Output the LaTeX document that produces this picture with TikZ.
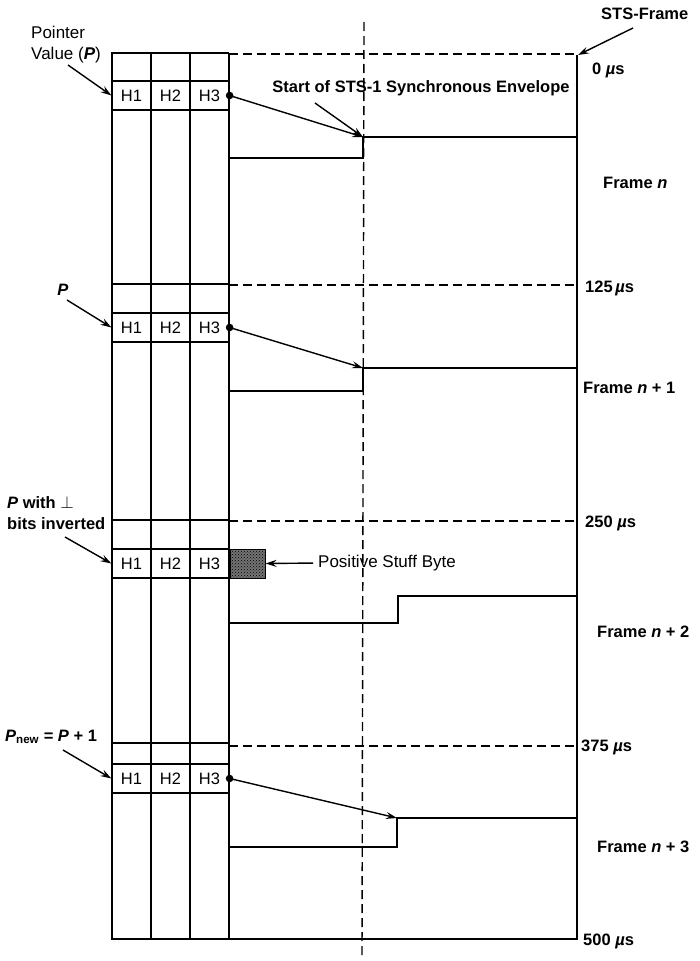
\documentclass[tikz,border=0pt]{standalone}
\usepackage{fontspec}
\setmainfont{Liberation Sans}
\usetikzlibrary{arrows.meta, positioning, patterns}
\newcommand{\bip}[1]{\textbf{\textit{#1}}}
\tikzset{
  hcell/.style={draw, line width=1.2pt, minimum width=39pt, minimum height=29pt,
                inner sep=0pt, font=\fontsize{16.5}{18}\selectfont},
  lbl/.style={font=\fontsize{16.5}{21}\selectfont\bfseries, inner sep=0pt},
  tlbl/.style={font=\fontsize{17}{21}\selectfont, inner sep=0pt},
  arr/.style={-{Stealth[length=11pt, width=7pt, inset=4pt]}, line width=1.4pt},
  frm/.style={line width=1.4pt},
  tickline/.style={line width=1.4pt, dash pattern=on 9pt off 5pt},
  stuffbox/.style={draw, line width=1pt, preaction={fill=black!55}, pattern color=black,
                   pattern=crosshatch dots, minimum width=35pt, minimum height=29pt,
                   inner sep=0pt},
}

\begin{document}
\begin{tikzpicture}[x=1pt, y=-1pt]
  \useasboundingbox (0,0) rectangle (700,961);

  % columns and STS frame outline
  \draw[frm] (229,53) -- (112,53) -- (112,939) -- (577,939) -- (577,55);
  \draw[frm] (151,53) -- (151,939);
  \draw[frm] (190,53) -- (190,939);
  \draw[frm] (229,53) -- (229,939);
  \draw[frm] (112,284) -- (229,284);
  \draw[frm] (112,520) -- (229,520);
  \draw[frm] (112,743) -- (229,743);

  % frame boundaries
  \draw[tickline] (229,54) -- (577,54);
  \draw[tickline] (229,285) -- (577,285);
  \draw[tickline] (229,521) -- (577,521);
  \draw[tickline] (229,746) -- (577,746);
  \draw[tickline] (364,22) -- (362,958);

  % pointer bytes
  \node[hcell] (h1a) at (131.5,95.5) {H1};
  \node[hcell] (h2a) at (170.5,95.5) {H2};
  \node[hcell] (h3a) at (209.5,95.5) {H3};
  \node[hcell] (h1b) at (131.5,327.5) {H1};
  \node[hcell] (h2b) at (170.5,327.5) {H2};
  \node[hcell] (h3b) at (209.5,327.5) {H3};
  \node[hcell] (h1c) at (131.5,563.5) {H1};
  \node[hcell] (h2c) at (170.5,563.5) {H2};
  \node[hcell] (h3c) at (209.5,563.5) {H3};
  \node[hcell] (h1d) at (131.5,778.5) {H1};
  \node[hcell] (h2d) at (170.5,778.5) {H2};
  \node[hcell] (h3d) at (209.5,778.5) {H3};
  \node[stuffbox, anchor=west] (stuff) at (h3c.east) {};

  % envelope start
  \draw[frm] (229,158) -- (363,158) -- (363,137) -- (577,137);
  \draw[frm] (229,391) -- (363,391) -- (363,368) -- (577,368);
  \draw[frm] (229,623) -- (398,623) -- (398,596) -- (577,596);
  \draw[frm] (229,847) -- (397,847) -- (397,818) -- (577,818);
  \coordinate (spe1) at (363,137);
  \coordinate (spe2) at (363,368);
  \coordinate (spe4) at (397,818);

  \fill (h3a.east) circle (3.8pt);
  \fill (h3b.east) circle (3.8pt);
  \fill (h3d.east) circle (3.8pt);
  \draw[arr] (h3a.east) -- (spe1);
  \draw[arr] (h3b.east) -- (spe2);
  \draw[arr] (h3d.east) -- (spe4);

  % left labels
  \node[tlbl, align=left, anchor=west] (ptrval) at (31,45) {Pointer\\Value (\bip{P})};
  \node[lbl] (plbl) at (63,290) {\bip{P}};
  \node[lbl, align=left, anchor=west] (pinv) at (7,513) {\bip{P} with $\perp$\\bits inverted};
  \node[lbl, anchor=west] (pnew) at (5,737) {\bip{P}\textsubscript{new} = \bip{P} + 1};
  \coordinate (ptrtail) at (68,65);
  \coordinate (ptail) at (67,300);
  \coordinate (pinvtail) at (65,537);
  \coordinate (pnewtail) at (63,750);
  \draw[arr] (ptrtail) -- (h1a.west);
  \draw[arr] (ptail) -- (h1b.west);
  \draw[arr] (pinvtail) -- (h1c.west);
  \draw[arr] (pnewtail) -- (h1d.west);

  % envelope and stuff labels
  \node[lbl] (spelbl) at (421,88) {Start of STS-1 Synchronous Envelope};
  \coordinate (spetail) at (315,103);
  \draw[arr] (spetail) -- (spe1);
  \node[tlbl, anchor=west] (stufflbl) at (318,563) {Positive Stuff Byte};
  \draw[arr, shorten <=5pt] (stufflbl.west) -- (stuff.east);

  % right labels
  \node[lbl, anchor=west] (stsframe) at (601,14) {STS-Frame};
  \coordinate (stscorner) at (578,55);
  \coordinate (ststail) at (633,28);
  \draw[arr] (ststail) -- (stscorner);
  \node[lbl, anchor=west] (t0) at (592,70) {0 \textit{µ}s};
  \node[lbl, anchor=west] (fn) at (603,183) {Frame \bip{n}};
  \node[lbl, anchor=west] (t1) at (585,288) {125\,\textit{µ}s};
  \node[lbl, anchor=west] (fn1) at (583,388) {Frame \bip{n} + 1};
  \node[lbl, anchor=west] (t2) at (585,523) {250 \textit{µ}s};
  \node[lbl, anchor=west] (fn2) at (597,632) {Frame \bip{n} + 2};
  \node[lbl, anchor=west] (t3) at (581,747) {375 \textit{µ}s};
  \node[lbl, anchor=west] (fn3) at (597,847) {Frame \bip{n} + 3};
  \node[lbl, anchor=west] (t4) at (583,941) {500 \textit{µ}s};
\end{tikzpicture}
\end{document}
